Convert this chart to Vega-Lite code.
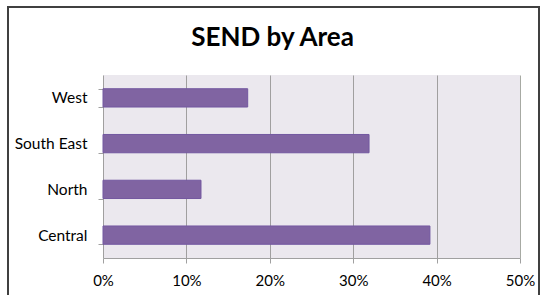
{
  "$schema": "https://vega.github.io/schema/vega-lite/v6.json",
  "width": 531,
  "height": 288,
  "autosize": {"type": "none"},
  "padding": {"left": 8, "top": 7, "right": 1, "bottom": 0},
  "background": "white",
  "title": {
    "text": "SEND by Area",
    "font": "Lato",
    "fontSize": 26,
    "fontWeight": "bold",
    "color": "#000000",
    "anchor": "middle",
    "dx": -1,
    "dy": 72,
    "offset": 0,
    "baseline": "alphabetic"
  },
  "layer": [
    {
      "data": {"values": [{}]},
      "mark": {"type": "rect", "fill": "#7A668E", "fillOpacity": 0.15},
      "encoding": {
        "x": {
          "datum": 0,
          "type": "quantitative",
          "axis": {
            "orient": "top",
            "title": null,
            "values": [0, 0.1, 0.2, 0.3, 0.4, 0.5],
            "grid": true,
            "gridColor": "#A7AAA3",
            "gridOpacity": 1,
            "labels": false,
            "ticks": false,
            "domain": false
          }
        },
        "x2": {"datum": 0.5},
        "y": {
          "datum": 0,
          "type": "quantitative",
          "scale": {"domain": [0, 1], "range": [251, 68], "nice": false, "zero": false},
          "axis": null
        },
        "y2": {"datum": 1}
      }
    },
    {
      "data": {
        "values": [
          {"area": "West", "share": 0.1735},
          {"area": "South East", "share": 0.319},
          {"area": "North", "share": 0.1175},
          {"area": "Central", "share": 0.392}
        ]
      },
      "mark": {"type": "bar", "fill": "#8064A2", "stroke": "#7358A0", "strokeWidth": 1},
      "encoding": {
        "y": {
          "field": "area",
          "type": "nominal",
          "sort": ["West", "South East", "North", "Central"],
          "scale": {"range": [68, 251], "paddingInner": 0.6, "paddingOuter": 0.3},
          "axis": {
            "title": null,
            "orient": "left",
            "offset": -95,
            "tickBand": "extent",
            "grid": false,
            "domain": false,
            "ticks": true,
            "tickColor": "#A0A0A0",
            "tickSize": 5,
            "labelFont": "Lato",
            "labelFontSize": 15.5,
            "labelColor": "#000000",
            "labelPadding": 11
          }
        },
        "x": {
          "field": "share",
          "type": "quantitative",
          "scale": {"domain": [0, 0.5], "range": [95, 512], "nice": false, "zero": false},
          "axis": {
            "title": null,
            "orient": "bottom",
            "offset": -37,
            "format": ".0%",
            "values": [0, 0.1, 0.2, 0.3, 0.4, 0.5],
            "grid": false,
            "tickColor": "#A0A0A0",
            "domainColor": "#A0A0A0",
            "tickSize": 5,
            "labelFont": "Lato",
            "labelFontSize": 15,
            "labelColor": "#000000",
            "labelBaseline": "alphabetic",
            "labelFlush": false,
            "labelPadding": 22.5
          }
        }
      }
    }
  ],
  "resolve": {"scale": {"y": "independent"}, "axis": {"x": "independent"}},
  "config": {
    "view": {
      "fill": "white",
      "stroke": "#404040",
      "strokeWidth": 2,
      "strokeDash": [819, 531]
    }
  }
}
